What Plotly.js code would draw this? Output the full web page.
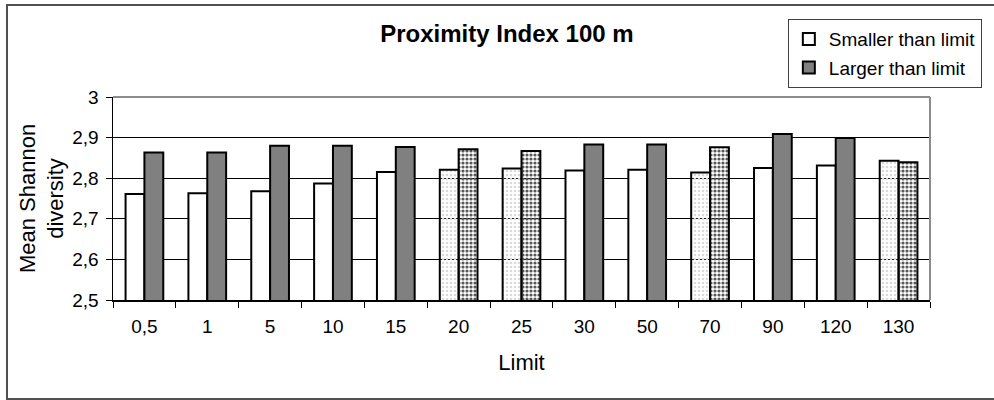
<!DOCTYPE html>
<html>
<head>
<meta charset="utf-8">
<script src="https://cdn.plot.ly/plotly-3.0.1.min.js"></script>
<style>
  html, body { margin: 0; padding: 0; background: #ffffff; }
  #wrap { position: relative; width: 994px; height: 400px; overflow: hidden; }
  #chart { position: absolute; left: 0; top: 0; width: 994px; height: 400px; }
  #frame {
    position: absolute; left: 6px; top: 4px; width: 1000px; height: 392px;
    border: 2px solid #505050; pointer-events: none;
  }
</style>
</head>
<body>
<div id="wrap">
  <div id="chart"></div>
  <div id="frame"></div>
</div>
<script>
// Limit categories on the x axis
const limits = ['0,5', '1', '5', '10', '15', '20', '25', '30', '50', '70', '90', '120', '130'];

// Mean Shannon diversity for patches below / above each limit
const smallerThanLimit = [2.761, 2.763, 2.768, 2.787, 2.815, 2.821, 2.824, 2.819, 2.821, 2.814, 2.825, 2.831, 2.843];
const largerThanLimit  = [2.863, 2.863, 2.880, 2.880, 2.877, 2.871, 2.867, 2.883, 2.883, 2.876, 2.909, 2.899, 2.839];

// Limits whose bars carry the speckled fill
const speckled = ['20', '25', '70', '130'];

// Y axis ticks
const yTicks = [2.5, 2.6, 2.7, 2.8, 2.9, 3];

const FONT = 'Liberation Sans, Arial, sans-serif';

// Plain bars are a flat colour; speckled bars draw dots (speckFg) over speckBg
function fillStyle(plain, speckBg, speckFg, solidity) {
  const isSpeck = limits.map(l => speckled.includes(l));
  return {
    color: isSpeck.map(s => s ? speckFg : plain),
    pattern: {
      fillmode: 'replace',
      shape: isSpeck.map(s => s ? '.' : ''),
      bgcolor: speckBg,
      size: 4,
      solidity: solidity
    },
    line: { color: '#000000', width: 2 }
  };
}

const traces = [
  {
    type: 'bar',
    name: 'Smaller than limit',
    x: limits,
    y: smallerThanLimit,
    marker: fillStyle('#ffffff', '#f2f2f2', '#dadada', 0.35),
    legendgroup: 'a'
  },
  {
    type: 'bar',
    name: 'Larger than limit',
    x: limits,
    y: largerThanLimit,
    marker: fillStyle('#808080', '#a6a6a6', '#585858', 0.5),
    legendgroup: 'b'
  }
];

const layout = {
  width: 994,
  height: 400,
  margin: { l: 113, r: 60, t: 97, b: 100, pad: 0 },
  paper_bgcolor: '#ffffff',
  plot_bgcolor: '#ffffff',
  font: { family: FONT, size: 19, color: '#000000' },
  separators: ', ',
  barmode: 'group',
  bargap: 0.4,
  bargroupgap: 0,
  title: {
    text: '<b>Proximity Index 100 m</b>',
    font: { family: FONT, size: 24, color: '#000000' },
    xref: 'container', yref: 'container',
    x: 0.51, y: 0.915, xanchor: 'center', yanchor: 'middle'
  },
  xaxis: {
    type: 'category',
    showgrid: false,
    showline: true, linecolor: '#000000', linewidth: 1.5,
    ticks: 'outside', tickson: 'boundaries', ticklen: 6, tickcolor: '#000000', tickwidth: 1,
    ticklabelstandoff: 9,
    tickfont: { family: FONT, size: 19 },
    title: { text: 'Limit', font: { family: FONT, size: 22 }, standoff: 18 },
    fixedrange: true
  },
  yaxis: {
    range: [2.5, 3],
    tickvals: yTicks,
    showgrid: true, gridcolor: '#000000', gridwidth: 1,
    zeroline: false,
    showline: true, linecolor: '#000000', linewidth: 1.5,
    ticks: 'outside', ticklen: 6, tickcolor: '#000000', tickwidth: 1,
    ticklabelstandoff: 3,
    tickfont: { family: FONT, size: 19 },
    title: { text: 'Mean Shannon<br>diversity', font: { family: FONT, size: 22 }, standoff: 2 },
    fixedrange: true
  },
  showlegend: true,
  legend: {
    x: 0.826, y: 1.384, xanchor: 'left', yanchor: 'top',
    bgcolor: '#ffffff', bordercolor: '#404040', borderwidth: 1,
    font: { family: FONT, size: 19, color: '#000000' },
    traceorder: 'grouped', tracegroupgap: 1,
    itemwidth: 30
  },
  shapes: [
    // grey frame along the top and right of the plotting area
    { type: 'line', xref: 'paper', yref: 'paper', x0: 0, x1: 1, y0: 1, y1: 1,
      line: { color: '#8c8c8c', width: 2 }, layer: 'above' },
    { type: 'line', xref: 'paper', yref: 'paper', x0: 1, x1: 1, y0: 0, y1: 1,
      line: { color: '#8c8c8c', width: 2 }, layer: 'above' }
  ]
};

Plotly.newPlot('chart', traces, layout, { displayModeBar: false, staticPlot: true });
</script>
</body>
</html>
